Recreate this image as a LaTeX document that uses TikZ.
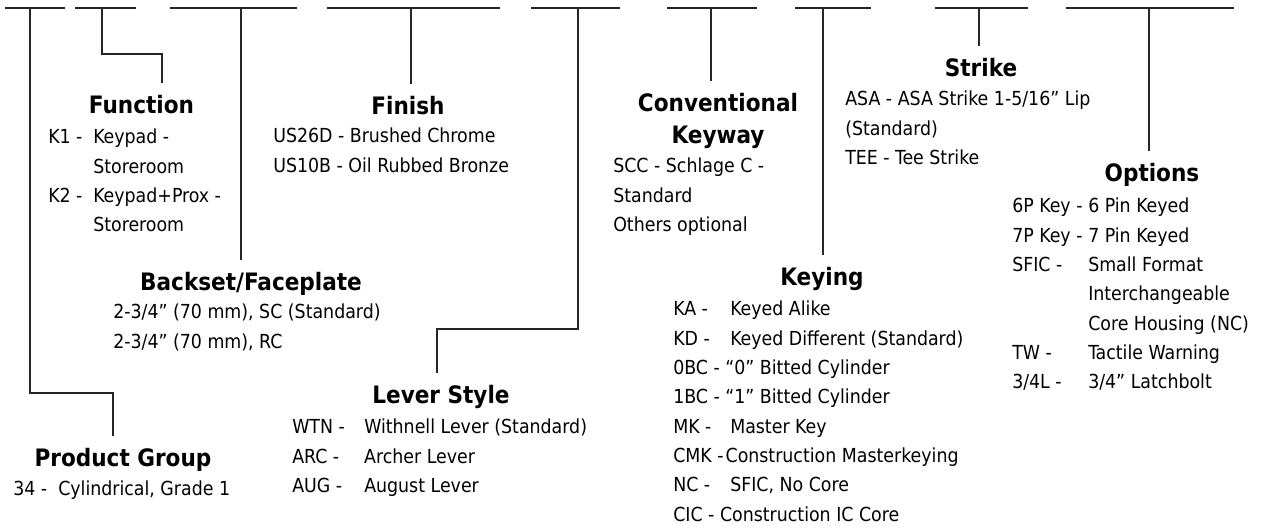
\documentclass[tikz,border=0pt]{standalone}
\usepackage{fontspec}
\setmainfont{DejaVu Sans Condensed}
\usetikzlibrary{positioning}
% fixed tab column for the code lists
\newcommand{\tabcol}[2]{\makebox[#1][l]{#2}}
% lines hung from the first baseline
\newcommand{\lines}[2][l]{\begin{tabular}[t]{@{}#1@{}}#2\end{tabular}}

\begin{document}
\begin{tikzpicture}[x=0.75pt,y=-0.75pt,
  grp/.style={font=\fontsize{18}{24}\selectfont\bfseries,
    inner sep=0pt, text height=23pt, text depth=6pt, anchor=base},
  lst/.style={font=\fontsize{14.5}{22}\selectfont,
    inner sep=0pt, anchor=base west},
  lead/.style={line width=1pt, draw=black!85}
]
  \useasboundingbox (0,0) rectangle (1283,530);

  % blanks of the model number
  \foreach \a/\b in {5/65,75/136,170/297,327/500,531/620,667/757,795/871,935/1028,1066/1234}
    \draw[lead] (\a,8) -- (\b,8);

  \coordinate (prodtop) at (30,8);
  \coordinate (functop) at (102,8);
  \coordinate (backtop) at (241,8);
  \coordinate (fintop) at (411,8);
  \coordinate (levtop) at (578,8);
  \coordinate (convtop) at (711,8);
  \coordinate (keygtop) at (823,8);
  \coordinate (strktop) at (979,8);
  \coordinate (optstop) at (1149,8);

  % group titles
  \node[grp] (prod) at (123,467) {Product Group};
  \node[grp] (func) at (141.5,114) {Function};
  \node[grp] (back) at (251,291) {Backset/Faceplate};
  \node[grp] (fin) at (408,115) {Finish};
  \node[grp] (lev) at (441,404) {Lever Style};
  \node[grp] (conv) at (718,112) {\lines[c]{Conventional\\Keyway}};
  \node[grp] (keyg) at (822,286) {Keying};
  \node[grp] (strk) at (981,77) {Strike};
  \node[grp] (opts) at (1152,182) {Options};

  % code lists
  \node[lst] (prodl) at (13,496) {\tabcol{33.75pt}{34 -}Cylindrical, Grade 1};
  \node[lst] (funcl) at (48,144) {\lines{\tabcol{33.75pt}{K1 -}Keypad -\\
    \tabcol{33.75pt}{}Storeroom\\
    \tabcol{33.75pt}{K2 -}Keypad+Prox -\\
    \tabcol{33.75pt}{}Storeroom}};
  \node[lst] (backl) at (113,319) {\lines{2-3/4” (70 mm), SC (Standard)\\
    2-3/4” (70 mm), RC}};
  \node[lst] (finl) at (273,143) {\lines{US26D - Brushed Chrome\\US10B - Oil Rubbed Bronze}};
  \node[lst] (levl) at (292,434) {\lines{\tabcol{54pt}{WTN -}Withnell Lever (Standard)\\
    \tabcol{54pt}{ARC -}Archer Lever\\
    \tabcol{54pt}{AUG -}August Lever}};
  \node[lst] (convl) at (613,173) {\lines{SCC - Schlage C -\\Standard\\Others optional}};
  \node[lst] (keygl) at (673,316) {\lines{\tabcol{42.75pt}{KA -}Keyed Alike\\
    \tabcol{42.75pt}{KD -}Keyed Different (Standard)\\
    0BC - “0” Bitted Cylinder\\
    1BC - “1” Bitted Cylinder\\
    \tabcol{42.75pt}{MK -}Master Key\\
    CMK -\kern1.5pt Construction Masterkeying\\
    \tabcol{42.75pt}{NC -}SFIC, No Core\\
    CIC - Construction IC Core}};
  \node[lst] (strkl) at (845,106) {\lines{ASA - ASA Strike 1-5/16” Lip\\(Standard)\\TEE - Tee Strike}};
  \node[lst] (optsl) at (1012,213) {\lines{\tabcol{57pt}{6P Key -}6 Pin Keyed\\
    \tabcol{57pt}{7P Key -}7 Pin Keyed\\
    \tabcol{57pt}{SFIC -}Small Format\\
    \tabcol{57pt}{}Interchangeable\\
    \tabcol{57pt}{}Core Housing (NC)\\
    \tabcol{57pt}{TW -}Tactile Warning\\
    \tabcol{57pt}{3/4L -}3/4” Latchbolt}};

  % leaders from the blanks to the titles
  \draw[lead] (prodtop) -- (30,393) -| (prod.north -| 113,0);
  \draw[lead] (functop) -- (102,54) -| (func.north -| 162,0);
  \draw[lead] (backtop) -- (back.north -| backtop);
  \draw[lead] (fintop) -- (fin.north -| fintop);
  \draw[lead] (levtop) -- (578,329) -| (lev.north -| 437,0);
  \draw[lead] (convtop) -- (conv.north -| convtop);
  \draw[lead] (keygtop) -- (keyg.north -| keygtop);
  \draw[lead] (strktop) -- (strk.north -| strktop);
  \draw[lead] (optstop) -- (opts.north -| optstop);
\end{tikzpicture}
\end{document}
